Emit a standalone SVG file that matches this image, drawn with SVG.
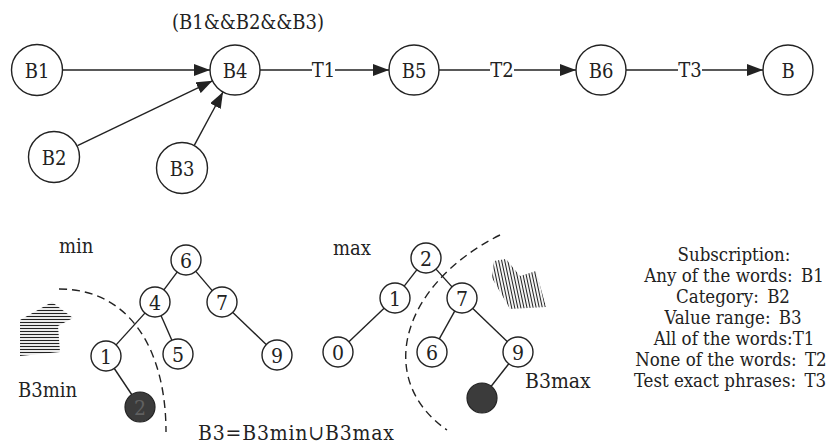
<svg xmlns="http://www.w3.org/2000/svg" width="833" height="447" viewBox="0 0 833 447">
  <style>
    .node { fill: #fff; stroke: #222; stroke-width: 1.4; }
    .leaf { fill: #3b3b3b; stroke: #222; stroke-width: 1.2; }
    .edge { stroke: #222; stroke-width: 1.4; fill: none; }
    .dash { stroke: #222; stroke-width: 1.4; fill: none; stroke-dasharray: 8 5; }
    text { font-family: 'DejaVu Serif Condensed', 'DejaVu Serif', 'Liberation Serif', serif; font-stretch: condensed; font-size: 20px; fill: #222; }
    .c { text-anchor: middle; }
    .digit { font-size: 21px; text-anchor: middle; }
    .legend text { font-size: 18.5px; text-anchor: middle; }
  </style>
  <defs>
    <marker id="arrow" markerUnits="userSpaceOnUse" markerWidth="16" markerHeight="12" refX="16" refY="6" orient="auto">
      <path d="M0,0 L16,6 L0,12 Z" fill="#222"/>
    </marker>
    <pattern id="hatchH" patternUnits="userSpaceOnUse" width="5" height="3">
      <line x1="0" y1="1.5" x2="5" y2="1.5" stroke="#222" stroke-width="1.2"/>
    </pattern>
    <pattern id="hatchV" patternUnits="userSpaceOnUse" width="3" height="5" patternTransform="rotate(-12)">
      <line x1="1.5" y1="0" x2="1.5" y2="5" stroke="#222" stroke-width="1.1"/>
    </pattern>
  </defs>

  <!-- Top flow: connectors -->
  <g id="connectors">
    <line class="edge" x1="62" y1="70" x2="210" y2="70" marker-end="url(#arrow)"/>
    <line class="edge" x1="77.5" y1="145.7" x2="212.5" y2="80.8" marker-end="url(#arrow)"/>
    <line class="edge" x1="194.4" y1="145.1" x2="223" y2="92" marker-end="url(#arrow)"/>
    <line class="edge" x1="260" y1="70" x2="312" y2="70"/>
    <line class="edge" x1="335" y1="70" x2="389" y2="70" marker-end="url(#arrow)"/>
    <line class="edge" x1="439" y1="70" x2="490" y2="70"/>
    <line class="edge" x1="514" y1="70" x2="576" y2="70" marker-end="url(#arrow)"/>
    <line class="edge" x1="626" y1="70" x2="678" y2="70"/>
    <line class="edge" x1="702" y1="70" x2="763" y2="70" marker-end="url(#arrow)"/>
    <text class="c" x="323.5" y="77">T1</text>
    <text class="c" x="502" y="77">T2</text>
    <text class="c" x="690" y="77">T3</text>
  </g>

  <!-- Top flow: nodes -->
  <g id="B1"><circle class="node" cx="37" cy="70" r="25.5"/><text class="c" x="37" y="77.5">B1</text></g>
  <g id="B2"><circle class="node" cx="54" cy="157" r="25.5"/><text class="c" x="54" y="164.5">B2</text></g>
  <g id="B3"><circle class="node" cx="182" cy="168" r="25.5"/><text class="c" x="182" y="175.5">B3</text></g>
  <g id="B4"><circle class="node" cx="235" cy="70" r="25"/><text class="c" x="235" y="77.5">B4</text></g>
  <g id="B5"><circle class="node" cx="414" cy="70" r="25"/><text class="c" x="414" y="77.5">B5</text></g>
  <g id="B6"><circle class="node" cx="601" cy="70" r="25"/><text class="c" x="601" y="77.5">B6</text></g>
  <g id="B"><circle class="node" cx="788" cy="70" r="25"/><text class="c" x="788" y="77.5">B</text></g>
  <text class="c" x="248" y="29">(B1&amp;&amp;B2&amp;&amp;B3)</text>

  <!-- Min tree -->
  <g id="min-tree">
    <g id="min-edges">
      <line class="edge" x1="177.1" y1="272.1" x2="163.9" y2="289.9"/>
      <line class="edge" x1="195.8" y1="271.4" x2="212.2" y2="290.6"/>
      <line class="edge" x1="144.9" y1="313.1" x2="116.1" y2="344.9"/>
      <line class="edge" x1="161.1" y1="315.7" x2="171.9" y2="340.3"/>
      <line class="edge" x1="232.8" y1="312.4" x2="266.2" y2="344.6"/>
      <line class="edge" x1="114.3" y1="368.5" x2="131.7" y2="394.5"/>
    </g>
    <g id="min-6"><circle class="node" cx="186" cy="260" r="15"/><text class="digit" x="186" y="267.5">6</text></g>
    <g id="min-4"><circle class="node" cx="155" cy="302" r="15"/><text class="digit" x="155" y="309.5">4</text></g>
    <g id="min-7"><circle class="node" cx="222" cy="302" r="15"/><text class="digit" x="222" y="309.5">7</text></g>
    <g id="min-1"><circle class="node" cx="106" cy="356" r="15"/><text class="digit" x="106" y="363.5">1</text></g>
    <g id="min-5"><circle class="node" cx="178" cy="354" r="15"/><text class="digit" x="178" y="361.5">5</text></g>
    <g id="min-9"><circle class="node" cx="277" cy="355" r="15"/><text class="digit" x="277" y="362.5">9</text></g>
    <g id="min-2"><circle class="leaf" cx="140" cy="407" r="15"/><text class="digit" x="140" y="414.5" style="fill:#606060">2</text></g>
  </g>

  <!-- Max tree -->
  <g id="max-tree">
    <g id="max-edges">
      <line class="edge" x1="416.8" y1="269.9" x2="404.2" y2="286.1"/>
      <line class="edge" x1="436.0" y1="269.1" x2="452.0" y2="286.9"/>
      <line class="edge" x1="384.1" y1="308.3" x2="348.9" y2="341.7"/>
      <line class="edge" x1="454.7" y1="311.1" x2="439.3" y2="338.9"/>
      <line class="edge" x1="472.8" y1="308.4" x2="507.2" y2="341.6"/>
      <line class="edge" x1="508.8" y1="363.8" x2="491.2" y2="386.2"/>
    </g>
    <g id="max-2"><circle class="node" cx="426" cy="258" r="15"/><text class="digit" x="426" y="265.5">2</text></g>
    <g id="max-1"><circle class="node" cx="395" cy="298" r="15"/><text class="digit" x="395" y="305.5">1</text></g>
    <g id="max-7"><circle class="node" cx="462" cy="298" r="15"/><text class="digit" x="462" y="305.5">7</text></g>
    <g id="max-0"><circle class="node" cx="338" cy="352" r="15"/><text class="digit" x="338" y="359.5">0</text></g>
    <g id="max-6"><circle class="node" cx="432" cy="352" r="15"/><text class="digit" x="432" y="359.5">6</text></g>
    <g id="max-9"><circle class="node" cx="518" cy="352" r="15"/><text class="digit" x="518" y="359.5">9</text></g>
    <g id="max-leaf"><circle class="leaf" cx="482" cy="398" r="15"/></g>
  </g>

  <!-- Boundaries and direction marks -->
  <path class="dash" d="M59,289 C130,289 166,350 166,432"/>
  <path class="dash" d="M500,235 C400,285 375,380 447,430"/>
  <polygon points="52,302 73,318 58,326 60,352 20,356 20,320" fill="url(#hatchH)"/>
  <polygon points="494,261 506,259 520,276 536,271 546,307 510,309 492,278" fill="url(#hatchV)"/>

  <!-- Labels -->
  <text x="59" y="253">min</text>
  <text x="333" y="255">max</text>
  <text x="18" y="397">B3min</text>
  <text x="525" y="388" style="font-size:21px">B3max</text>
  <text x="198" y="440" style="font-size:21px" textLength="196" lengthAdjust="spacing">B3=B3min∪B3max</text>

  <!-- Legend -->
  <g id="legend" class="legend">
    <text x="734" y="261">Subscription:</text>
    <text x="734" y="282">Any of the words: <tspan dx="3">B1</tspan></text>
    <text x="733" y="303">Category: <tspan dx="3">B2</tspan></text>
    <text x="733" y="324">Value range: <tspan dx="3">B3</tspan></text>
    <text x="734" y="345">All of the words:T1</text>
    <text x="731" y="366">None of the words: <tspan dx="3">T2</tspan></text>
    <text x="730" y="387">Test exact phrases: <tspan dx="3">T3</tspan></text>
  </g>
</svg>
